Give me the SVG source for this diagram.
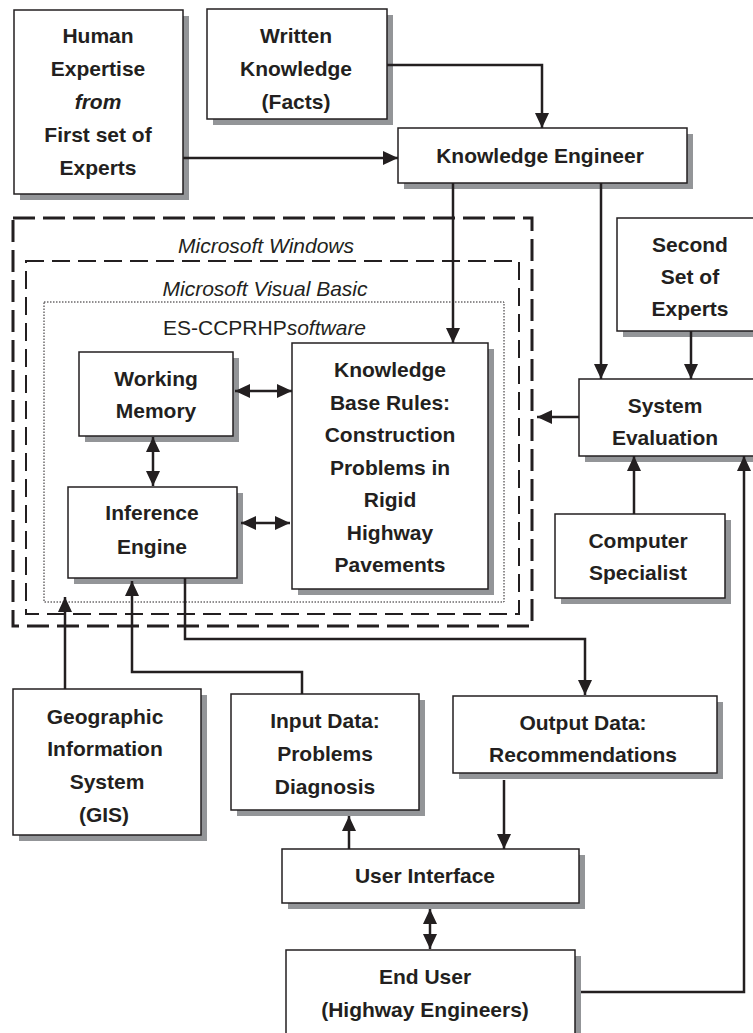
<svg xmlns="http://www.w3.org/2000/svg" width="753" height="1033" viewBox="0 0 753 1033">
<style>
.box{fill:#fff;stroke:#231f20;stroke-width:1.5}
.sh{fill:#939598}
.t{font-family:"Liberation Sans",Arial,sans-serif;font-size:21px;font-weight:bold;fill:#231f20;text-anchor:middle}
.l{font-family:"Liberation Sans",Arial,sans-serif;font-size:21px;fill:#231f20}
.c{fill:none;stroke:#231f20;stroke-width:2.5}
.a{marker-end:url(#ah)}
.d{marker-start:url(#ah);marker-end:url(#ah)}
.outer{fill:none;stroke:#231f20;stroke-width:3;stroke-dasharray:22 8}
.mid{fill:none;stroke:#231f20;stroke-width:2;stroke-dasharray:18 8}
.dot{fill:none;stroke:#231f20;stroke-width:1;stroke-dasharray:1.5 1.5}
</style>
<defs>
<marker id="ah" markerUnits="userSpaceOnUse" markerWidth="16" markerHeight="14" refX="15" refY="7" orient="auto-start-reverse" viewBox="0 0 16 14">
<path d="M0,0 L15,7 L0,14 z" fill="#231f20"/>
</marker>
</defs>
<rect width="753" height="1033" fill="#fff"/>

<g id="containers">
<rect class="outer" x="13" y="218" width="519" height="408"/>
<text class="l" x="266" y="253" text-anchor="middle" font-style="italic">Microsoft Windows</text>
<rect class="mid" x="26" y="261" width="493" height="353"/>
<text class="l" x="265" y="296" text-anchor="middle" font-style="italic">Microsoft Visual Basic</text>
<rect class="dot" x="44" y="302" width="460" height="300"/>
<text class="l" x="163" y="335">ES-CCPRHP<tspan font-style="italic">software</tspan></text>
</g>

<g id="human">
<rect class="sh" x="20" y="16" width="169" height="184"/>
<rect class="box" x="14" y="10" width="169" height="184"/>
<text class="t" x="98" y="43">Human</text>
<text class="t" x="98" y="76">Expertise</text>
<text class="t" x="98" y="109" font-style="italic">from</text>
<text class="t" x="98" y="142">First set of</text>
<text class="t" x="98" y="175">Experts</text>
</g>

<g id="written">
<rect class="sh" x="213" y="15" width="180" height="110"/>
<rect class="box" x="207" y="9" width="180" height="110"/>
<text class="t" x="296" y="43">Written</text>
<text class="t" x="296" y="76">Knowledge</text>
<text class="t" x="296" y="109">(Facts)</text>
</g>

<g id="engineer">
<rect class="sh" x="404" y="134" width="289" height="55"/>
<rect class="box" x="398" y="128" width="289" height="55"/>
<text class="t" x="540" y="163">Knowledge Engineer</text>
</g>

<g id="second">
<rect class="sh" x="623" y="224" width="150" height="113"/>
<rect class="box" x="617" y="218" width="150" height="113"/>
<text class="t" x="690" y="252">Second</text>
<text class="t" x="690" y="284">Set of</text>
<text class="t" x="690" y="316">Experts</text>
</g>

<g id="evaluation">
<rect class="sh" x="585" y="385" width="180" height="77"/>
<rect class="box" x="579" y="379" width="180" height="77"/>
<text class="t" x="665" y="413">System</text>
<text class="t" x="665" y="445">Evaluation</text>
</g>

<g id="specialist">
<rect class="sh" x="561" y="520" width="170" height="84"/>
<rect class="box" x="555" y="514" width="170" height="84"/>
<text class="t" x="638" y="548">Computer</text>
<text class="t" x="638" y="580">Specialist</text>
</g>

<g id="memory">
<rect class="sh" x="85" y="358" width="154" height="84"/>
<rect class="box" x="79" y="352" width="154" height="84"/>
<text class="t" x="156" y="386">Working</text>
<text class="t" x="156" y="418">Memory</text>
</g>

<g id="inference">
<rect class="sh" x="74" y="493" width="169" height="91"/>
<rect class="box" x="68" y="487" width="169" height="91"/>
<text class="t" x="152" y="520">Inference</text>
<text class="t" x="152" y="554">Engine</text>
</g>

<g id="kb">
<rect class="sh" x="298" y="349" width="196" height="246"/>
<rect class="box" x="292" y="343" width="196" height="246"/>
<text class="t" x="390" y="377">Knowledge</text>
<text class="t" x="390" y="410">Base Rules:</text>
<text class="t" x="390" y="442">Construction</text>
<text class="t" x="390" y="475">Problems in</text>
<text class="t" x="390" y="507">Rigid</text>
<text class="t" x="390" y="540">Highway</text>
<text class="t" x="390" y="572">Pavements</text>
</g>

<g id="gis">
<rect class="sh" x="19" y="695" width="188" height="146"/>
<rect class="box" x="13" y="689" width="188" height="146"/>
<text class="t" x="105" y="724">Geographic</text>
<text class="t" x="105" y="756">Information</text>
<text class="t" x="107" y="789">System</text>
<text class="t" x="104" y="822">(GIS)</text>
</g>

<g id="input">
<rect class="sh" x="237" y="700" width="188" height="116"/>
<rect class="box" x="231" y="694" width="188" height="116"/>
<text class="t" x="325" y="728">Input Data:</text>
<text class="t" x="325" y="761">Problems</text>
<text class="t" x="325" y="794">Diagnosis</text>
</g>

<g id="output">
<rect class="sh" x="459" y="702" width="264" height="77"/>
<rect class="box" x="453" y="696" width="264" height="77"/>
<text class="t" x="583" y="730">Output Data:</text>
<text class="t" x="583" y="762">Recommendations</text>
</g>

<g id="ui">
<rect class="sh" x="288" y="855" width="297" height="54"/>
<rect class="box" x="282" y="849" width="297" height="54"/>
<text class="t" x="425" y="883">User Interface</text>
</g>

<g id="enduser">
<rect class="sh" x="292" y="956" width="289" height="90"/>
<rect class="box" x="286" y="950" width="289" height="90"/>
<text class="t" x="425" y="984">End User</text>
<text class="t" x="425" y="1017">(Highway Engineers)</text>
</g>

<g id="connectors">
<path class="c a" d="M183,158 H398"/>
<path class="c a" d="M387,65 H542 V128"/>
<path class="c a" d="M453,183 V343"/>
<path class="c a" d="M601,183 V379"/>
<path class="c a" d="M691,331 V379"/>
<path class="c a" d="M579,417 H537"/>
<path class="c a" d="M634,514 V456"/>
<path class="c a" d="M581,992 H744 V456"/>
<path class="c d" d="M235,391 H292"/>
<path class="c d" d="M153,437 V486"/>
<path class="c d" d="M241,523 H290"/>
<path class="c a" d="M65,689 V597"/>
<path class="c a" d="M302,694 V672 H132 V581"/>
<path class="c a" d="M185,578 V639 H585 V695"/>
<path class="c a" d="M504,780 V849"/>
<path class="c a" d="M349,849 V816"/>
<path class="c d" d="M430,909 V949"/>
</g>
</svg>
